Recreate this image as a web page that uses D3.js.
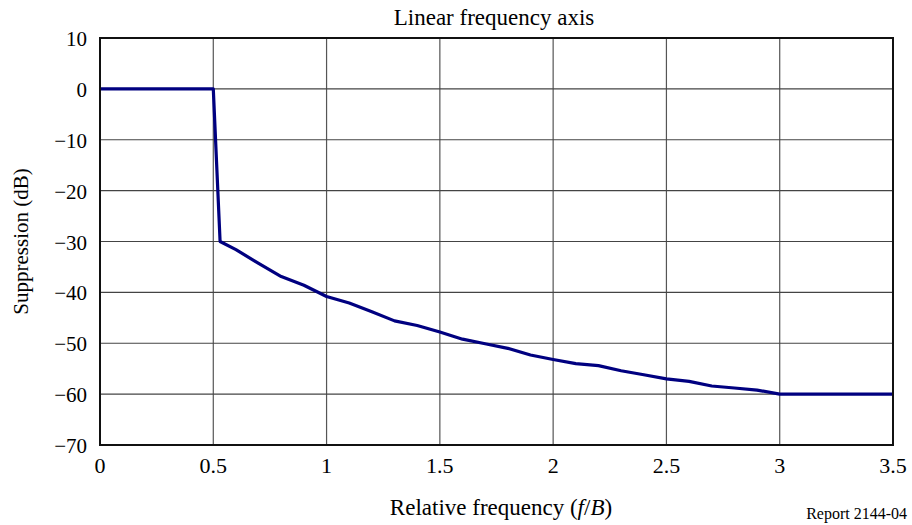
<!DOCTYPE html>
<html>
<head>
<meta charset="utf-8">
<script src="https://d3js.org/d3.v7.min.js"></script>
<style>
    body { margin: 0; background: #fff; }
    text { font-family: "Liberation Serif", "Times New Roman", serif; fill: #000; }
</style>
</head>
<body>
<script>
    // data
    var freq = [0, 0.5, 0.53, 0.6, 0.7, 0.8, 0.9, 1.0, 1.1, 1.2, 1.3, 1.4, 1.5, 1.6, 1.7,
                1.8, 1.9, 2.0, 2.1, 2.2, 2.3, 2.4, 2.5, 2.6, 2.7, 2.8, 2.9, 3.0, 3.5];
    var suppression = [0, 0, -30, -31.6, -34.3, -36.9, -38.6, -40.8, -42.1, -43.8, -45.6, -46.5, -47.8,
                       -49.2, -50.1, -51.0, -52.3, -53.2, -54.0, -54.4, -55.4, -56.2, -57.0, -57.5,
                       -58.4, -58.8, -59.2, -60, -60];
    var xTicks = [0, 0.5, 1, 1.5, 2, 2.5, 3, 3.5];
    var yTicks = [10, 0, -10, -20, -30, -40, -50, -60, -70];

    var width = 912, height = 525;
    var plotLeft = 100, plotRight = 893, plotTop = 38, plotBottom = 445;

    var svg = d3.select("body").append("svg")
        .attr("width", width)
        .attr("height", height);

    var x = d3.scaleLinear().domain([0, 3.5]).range([plotLeft, plotRight]);
    var y = d3.scaleLinear().domain([-70, 10]).range([plotBottom, plotTop]);

    // grid
    svg.append("g").selectAll("line").data(xTicks).enter().append("line")
        .attr("x1", d => x(d)).attr("x2", d => x(d))
        .attr("y1", plotTop).attr("y2", plotBottom)
        .attr("stroke", "#555").attr("stroke-width", 1.2);
    svg.append("g").selectAll("line").data(yTicks).enter().append("line")
        .attr("x1", plotLeft).attr("x2", plotRight)
        .attr("y1", d => y(d)).attr("y2", d => y(d))
        .attr("stroke", "#444").attr("stroke-width", 1.2);

    // curve
    var line = d3.line().x((d, i) => x(freq[i])).y(d => y(d));
    svg.append("path")
        .datum(suppression)
        .attr("d", line)
        .attr("fill", "none")
        .attr("stroke", "#000080")
        .attr("stroke-width", 3.2)
        .attr("stroke-linejoin", "round");

    // frame
    svg.append("rect")
        .attr("x", plotLeft).attr("y", plotTop)
        .attr("width", plotRight - plotLeft).attr("height", plotBottom - plotTop)
        .attr("fill", "none").attr("stroke", "#111").attr("stroke-width", 2);

    // tick labels
    svg.append("g").selectAll("text").data(yTicks).enter().append("text")
        .attr("x", 87).attr("y", d => y(d) + 8)
        .attr("text-anchor", "end")
        .style("font-size", "21px")
        .text(d => d < 0 ? "\u2212" + Math.abs(d) : d);
    svg.append("g").selectAll("text").data(xTicks).enter().append("text")
        .attr("x", d => x(d)).attr("y", 473)
        .attr("text-anchor", "middle")
        .style("font-size", "22px")
        .text(d => d);

    // titles
    svg.append("text")
        .attr("x", 494).attr("y", 25)
        .attr("text-anchor", "middle")
        .style("font-size", "23px")
        .text("Linear frequency axis");

    svg.append("text")
        .attr("transform", "translate(28," + ((plotTop + plotBottom) / 2) + ") rotate(-90)")
        .attr("text-anchor", "middle")
        .style("font-size", "21px")
        .text("Suppression (dB)");

    var xl = svg.append("text")
        .attr("x", 501).attr("y", 515)
        .attr("text-anchor", "middle")
        .style("font-size", "23px");
    xl.append("tspan").text("Relative frequency (");
    xl.append("tspan").style("font-style", "italic").text("f");
    xl.append("tspan").text("/");
    xl.append("tspan").style("font-style", "italic").text("B");
    xl.append("tspan").text(")");

    svg.append("text")
        .attr("x", 907).attr("y", 519)
        .attr("text-anchor", "end")
        .style("font-size", "16px")
        .text("Report 2144-04");
</script>
</body>
</html>
